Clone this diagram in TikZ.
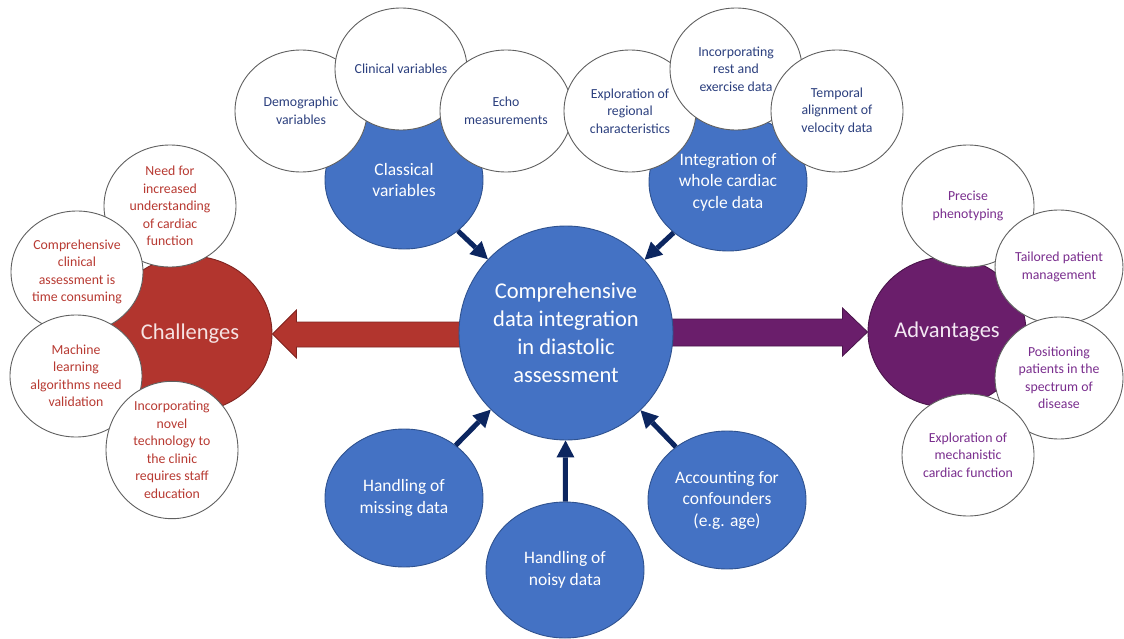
\documentclass[tikz,border=0pt]{standalone}
\usepackage{fontspec}
\setmainfont{Carlito}
\usetikzlibrary{shapes.geometric,arrows.meta}
\definecolor{cblue}{HTML}{4472C4}
\definecolor{bline}{HTML}{2F528F}
\definecolor{cred}{HTML}{B2352E}
\definecolor{rline}{HTML}{7F2420}
\definecolor{cpurple}{HTML}{6A1E6B}
\definecolor{pline}{HTML}{4A154B}
\definecolor{navy}{HTML}{0C2660}
\definecolor{tblue}{HTML}{2B3F7E}
\definecolor{tred}{HTML}{B83A32}
\definecolor{tpurple}{HTML}{7A2E8E}
\definecolor{wcline}{HTML}{606060}
\definecolor{lightred}{HTML}{F6E3E3}
\definecolor{lightpurple}{HTML}{F3E8F3}
\begin{document}
\begin{tikzpicture}[x=1pt,y=-1pt,
  wc/.style={ellipse, draw=wcline, line width=0.9pt, fill=white,
    minimum width=132pt, minimum height=122pt, inner sep=0pt, align=center,
    font=\fontsize{13.8}{17.5}\selectfont},
  wcb/.style={wc, text=tblue},
  wcr/.style={wc, text=tred},
  wcp/.style={wc, text=tpurple},
  bc/.style={ellipse, draw=bline, line width=0.9pt, fill=cblue,
    minimum width=158pt, minimum height=138pt, inner sep=0pt, align=center,
    text=white, font=\fontsize{17.5}{21.5}\selectfont},
  navyarr/.style={draw=navy, line width=5pt,
    -{Triangle[length=17pt,width=18pt,line width=0pt]}},
  bigfont/.style={font=\fontsize{22.5}{28}\selectfont}
]
\useasboundingbox (0,0) rectangle (1124,639);

% Challenges cluster
\node[ellipse, draw=rline, line width=0.9pt, fill=cred, minimum width=164pt,
  minimum height=156pt, inner sep=0pt, text=lightred, bigfont] (chal) at (190,334) {Challenges};
\node[wcr] (need) at (170,206) {Need for\\increased\\understanding\\of cardiac\\function};
\node[wcr] (ccat) at (77,272) {Comprehensive\\clinical\\assessment is\\time consuming};
\node[wcr] (mlav) at (76,376) {Machine\\learning\\algorithms need\\validation};
\node[wcr] (intc) at (172,450) {Incorporating\\novel\\technology to\\the clinic\\requires staff\\education};

% Advantages cluster
\node[ellipse, draw=pline, line width=0.9pt, fill=cpurple, minimum width=158pt,
  minimum height=150pt, inner sep=0pt, text=lightpurple, bigfont] (adv) at (947,332) {Advantages};
\node[wcp] (prec) at (968,206) {Precise\\phenotyping};
\node[wcp, minimum width=128pt, minimum height=114pt] (tail) at (1059,267) {Tailored patient\\management};
\node[wcp, minimum width=128pt, minimum height=122pt] (posi) at (1059,378) {Positioning\\patients in the\\spectrum of\\disease};
\node[wcp] (expm) at (968,455) {Exploration of\\mechanistic\\cardiac function};

% Classical variables cluster
\node[bc] (clas) at (404,180) {Classical\\variables};
\node[wcb] (demo) at (301,111) {Demographic\\variables};
\node[wcb] (clin) at (401,69) {Clinical variables};
\node[wcb] (echo) at (506,111) {Echo\\measurements};

% Whole cardiac cycle cluster
\node[bc] (inte) at (728,182) {Integration of\\whole cardiac\\cycle data};
\node[wcb] (expr) at (630,111) {Exploration of\\regional\\characteristics};
\node[wcb] (rest) at (736,69) {Incorporating\\rest and\\exercise data};
\node[wcb] (temp) at (837,111) {Temporal\\alignment of\\velocity data};

% Block arrows
\filldraw[fill=cred, draw=rline, line width=0.8pt]
  (chal.east) -- ++(24,-24) -- ++(0,12) -- ++(180,0) -- ++(0,25)
  -- ++(-180,0) -- ++(0,11) -- cycle;
\filldraw[fill=cpurple, draw=pline, line width=0.8pt]
  (adv.west) -- ++(-25,-24) -- ++(0,11) -- ++(-200,0) -- ++(0,27)
  -- ++(200,0) -- ++(0,10) -- cycle;

% Central circle
\node[circle, draw=bline, line width=0.9pt, fill=cblue, minimum size=214pt,
  inner sep=0pt, align=center, text=white, bigfont] (cen) at (566,333)
  {Comprehensive\\data integration\\in diastolic\\assessment};

% Bottom ellipses
\node[bc] (miss) at (404,498) {Handling of\\missing data};
\node[bc, minimum height=136pt] (nois) at (565,570) {Handling of\\noisy data};
\node[bc] (conf) at (727,500) {Accounting for\\confounders\\(e.g. age)};

% Navy arrows
\draw[navyarr] (clas) -- (cen);
\draw[navyarr] (inte) -- (cen);
\draw[navyarr] (miss) -- (cen);
\draw[navyarr] (nois) -- (cen);
\draw[navyarr] (conf) -- (cen);
\end{tikzpicture}
\end{document}
